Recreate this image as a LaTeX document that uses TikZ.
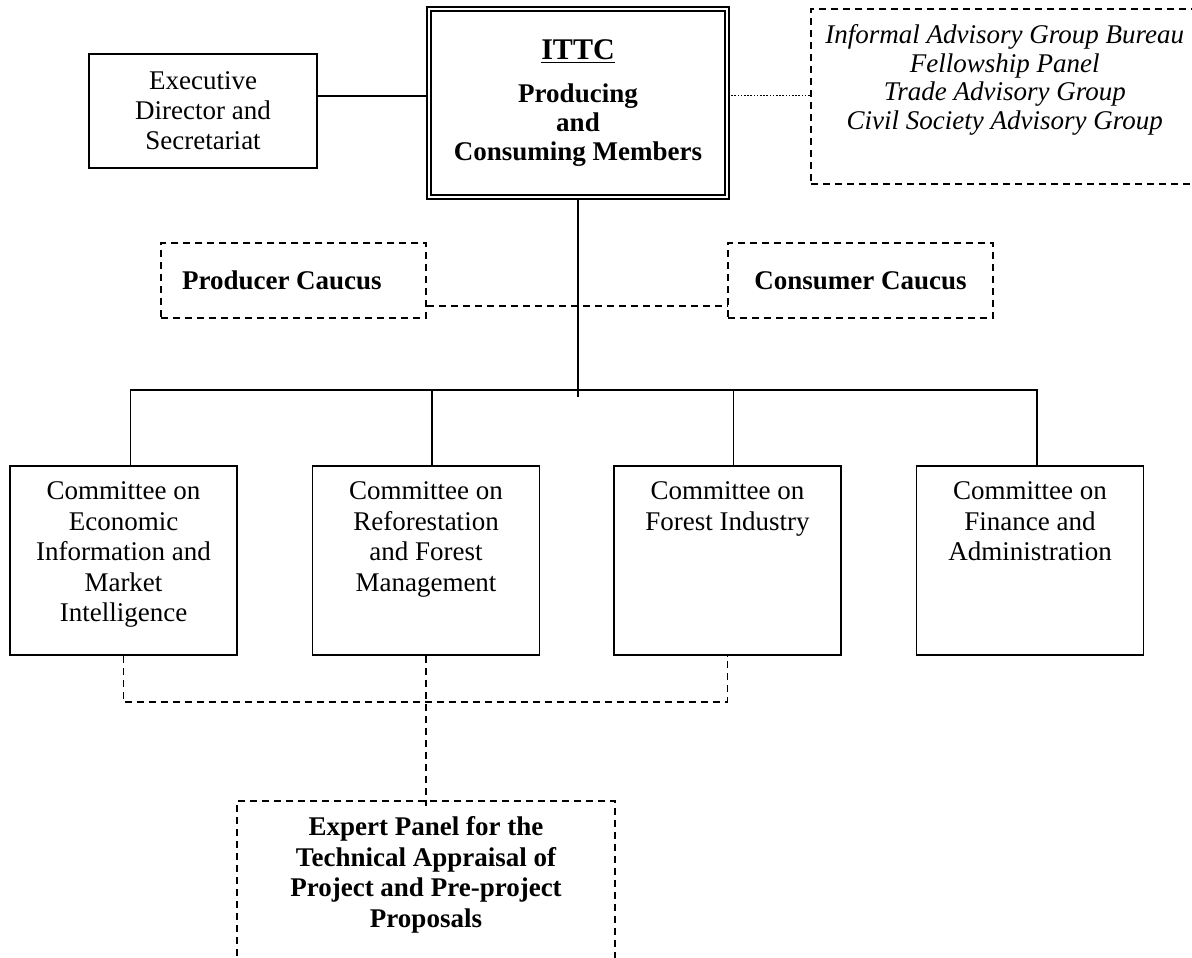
\documentclass[tikz,border=0pt]{standalone}
\usepackage{fontspec}
\setmainfont{Liberation Serif}
\usetikzlibrary{positioning}

\newcommand{\toptext}[3]{\parbox[c][#1][t]{#2}{\centering #3}}

\tikzset{
    orgbox/.style={draw, line width=0.9pt, inner sep=0pt, font=\fontsize{13.5}{15.25}\selectfont},
    boldtext/.style={font=\bfseries\fontsize{13.5}{15.25}\selectfont},
    dashbox/.style={orgbox, line width=0.8pt, dash pattern=on 3.5pt off 2.5pt},
    committee/.style={orgbox, anchor=north, minimum width=113.5pt, minimum height=94.5pt},
    link/.style={line width=0.9pt},
    dashlink/.style={line width=0.8pt, dash pattern=on 3.5pt off 2.5pt},
}

\begin{document}
\begin{tikzpicture}[x=0.5pt, y=-0.5pt]
    \useasboundingbox (0,0) rectangle (1192,957);
    \clip (0,0) rectangle (1192,957);

    % council and its side boxes
    \node[orgbox, minimum width=114pt, minimum height=57pt, align=center, font=\fontsize{13.5}{15}\selectfont] (exec) at (203,111) {Executive\\Director and\\Secretariat};
    \node[orgbox, double, double distance=1pt, line width=1pt, minimum width=149pt, minimum height=94pt, align=center, font=\bfseries\fontsize{13.5}{14.5}\selectfont] (ittc) at (578,103) {{\fontsize{15}{15}\selectfont\underline{ITTC}}\\[7pt]Producing\\and\\Consuming Members};
    \node[dashbox, anchor=north west, minimum width=194pt, minimum height=87.5pt, font=\itshape\fontsize{13.5}{14.25}\selectfont] (advisory) at (810,8) {\toptext{71.5pt}{190pt}{Informal Advisory Group Bureau\\Fellowship Panel\\Trade Advisory Group\\Civil Society Advisory Group}};
    \coordinate (mid) at (0,96);
    \draw[link] (exec.east |- mid) -- (ittc.west |- mid);
    \draw[line width=0.5pt, dash pattern=on 0.8pt off 0.8pt] (ittc.east |- mid) -- (advisory.west |- mid);

    % caucuses
    \node[dashbox, boldtext, minimum width=132.5pt, minimum height=37.5pt] (producer) at (293.5,280.5) {\makebox[111.5pt][l]{Producer Caucus}};
    \node[dashbox, boldtext, minimum width=132.5pt, minimum height=37.5pt] (consumer) at (860.5,280.5) {Consumer Caucus};
    \coordinate (caucus) at (0,306);
    \draw[dashlink] (producer.east |- caucus) -- (consumer.west |- caucus);

    % committees
    \coordinate (bar) at (577,390);
    \draw[link] (ittc.south) -- ++(0,199);
    \node[committee] (econ) at (123.5,465) {\toptext{78.5pt}{110pt}{Committee on\\Economic\\Information and\\Market\\Intelligence}};
    \node[committee] (refor) at (426,465) {\toptext{78.5pt}{110pt}{Committee on\\Reforestation\\and Forest\\Management}};
    \node[committee] (industry) at (727.5,465) {\toptext{78.5pt}{110pt}{Committee on\\Forest Industry}};
    \node[committee] (finance) at (1030,465) {\toptext{78.5pt}{110pt}{Committee on\\Finance and\\Administration}};
    \draw[link] ([xshift=3.5pt]econ.north) |- (bar) -| ([xshift=3.5pt]finance.north);
    \foreach \c in {refor, industry}
        \draw[link] ([xshift=3pt]\c.north) -- ++(0,-75);

    % expert panel
    \coordinate (join) at (0,702);
    \node[dashbox, boldtext, anchor=north, minimum width=189pt, minimum height=100pt] (expert) at (426,800) {\toptext{84pt}{180pt}{Expert Panel for the\\Technical Appraisal of\\Project and Pre-project\\Proposals}};
    \draw[dashlink] (econ.south) |- (industry.south |- join) -- (industry.south);
    \draw[dashlink] (refor.south) -- ([yshift=-3pt]expert.north);
\end{tikzpicture}
\end{document}
